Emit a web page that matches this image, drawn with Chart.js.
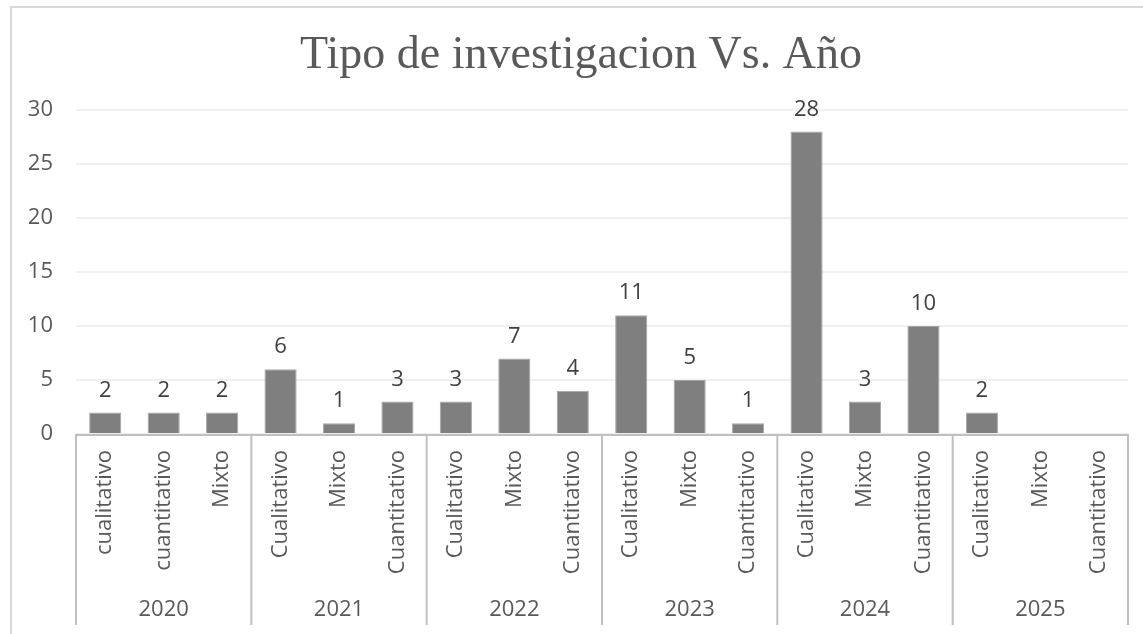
<!DOCTYPE html>
<html>
<head>
<meta charset="utf-8">
<script src="https://cdn.jsdelivr.net/npm/chart.js@4"></script>
<style>
  html, body { margin: 0; padding: 0; background: #fff; overflow: hidden; }
  #wrap { width: 1143px; height: 634px; position: relative; }
</style>
</head>
<body>
<div id="wrap"><canvas id="grafico" width="1143" height="634"></canvas></div>
<script>
// datos
const titulo = 'Tipo de investigacion Vs. Año';
const anios = ['2020', '2021', '2022', '2023', '2024', '2025'];
const tipos = [
  'cualitativo', 'cuantitativo', 'Mixto',
  'Cualitativo', 'Mixto', 'Cuantitativo',
  'Cualitativo', 'Mixto', 'Cuantitativo',
  'Cualitativo', 'Mixto', 'Cuantitativo',
  'Cualitativo', 'Mixto', 'Cuantitativo',
  'Cualitativo', 'Mixto', 'Cuantitativo'
];
const cantidades = [2, 2, 2, 6, 1, 3, 3, 7, 4, 11, 5, 1, 28, 3, 10, 2, null, null];
const ticksY = [0, 5, 10, 15, 20, 25, 30];
const porGrupo = 3;

const fuente = "'Open Sans', sans-serif";

// dibuja titulo, eje, separadores de grupo, años y etiquetas de datos
const extras = {
  id: 'extras',
  beforeDraw(chart) {
    const ctx = chart.ctx;
    ctx.save();
    ctx.strokeStyle = '#d9d9d9';
    ctx.lineWidth = 2;
    ctx.strokeRect(11, 7, 2000, 2000);
    ctx.restore();
  },
  afterDraw(chart) {
    const ctx = chart.ctx;
    const area = chart.chartArea;
    const n = tipos.length;
    const w = (area.right - area.left) / n;

    ctx.save();
    // titulo
    ctx.fillStyle = '#595959';
    ctx.font = "46px 'Liberation Serif', serif";
    ctx.textAlign = 'center';
    ctx.textBaseline = 'alphabetic';
    ctx.fillText(titulo, 581, 68);

    // eje horizontal
    ctx.strokeStyle = '#bfbfbf';
    ctx.lineWidth = 2;
    ctx.beginPath();
    ctx.moveTo(area.left, area.bottom + 1);
    ctx.lineTo(area.right, area.bottom + 1);
    ctx.stroke();

    // separadores y años
    ctx.font = '22px ' + fuente;
    ctx.textBaseline = 'middle';
    for (let g = 0; g <= anios.length; g++) {
      const bx = area.left + g * porGrupo * w;
      ctx.beginPath();
      ctx.moveTo(bx, area.bottom);
      ctx.lineTo(bx, 625);
      ctx.stroke();
      if (g < anios.length) {
        ctx.fillText(anios[g], bx + porGrupo * w / 2, 610);
      }
    }

    // etiquetas de datos
    ctx.fillStyle = '#404040';
    ctx.font = '22px ' + fuente;
    const meta = chart.getDatasetMeta(0);
    meta.data.forEach((bar, i) => {
      if (cantidades[i] == null) return;
      ctx.fillText(String(cantidades[i]), bar.x, bar.y - 22);
    });
    ctx.restore();
  }
};

new Chart(document.getElementById('grafico'), {
  type: 'bar',
  data: {
    labels: tipos,
    datasets: [{
      data: cantidades,
      backgroundColor: '#7f7f7f',
      borderColor: '#a6a6a6',
      borderWidth: 1,
      categoryPercentage: 1,
      barPercentage: 0.55
    }]
  },
  options: {
    responsive: false,
    animation: false,
    devicePixelRatio: 1,
    layout: { padding: { top: 110, right: 15, bottom: 0, left: 0 } },
    plugins: {
      legend: { display: false },
      title: { display: false },
      tooltip: { enabled: false }
    },
    scales: {
      x: {
        grid: { display: false, drawTicks: false },
        border: { display: false },
        ticks: {
          autoSkip: false,
          maxRotation: 90,
          minRotation: 90,
          padding: 16,
          color: '#595959',
          font: { family: fuente, size: 22 }
        },
        afterFit(scale) { scale.height = 200; }
      },
      y: {
        min: 0,
        max: 30,
        afterBuildTicks(scale) { scale.ticks = ticksY.map(v => ({ value: v })); },
        grid: { color: '#f0f0f0', lineWidth: 2, drawTicks: false },
        border: { display: false },
        ticks: {
          padding: 23,
          color: '#595959',
          font: { family: fuente, size: 22 }
        },
        afterFit(scale) { scale.width = 76; }
      }
    }
  },
  plugins: [extras]
});
</script>
</body>
</html>
